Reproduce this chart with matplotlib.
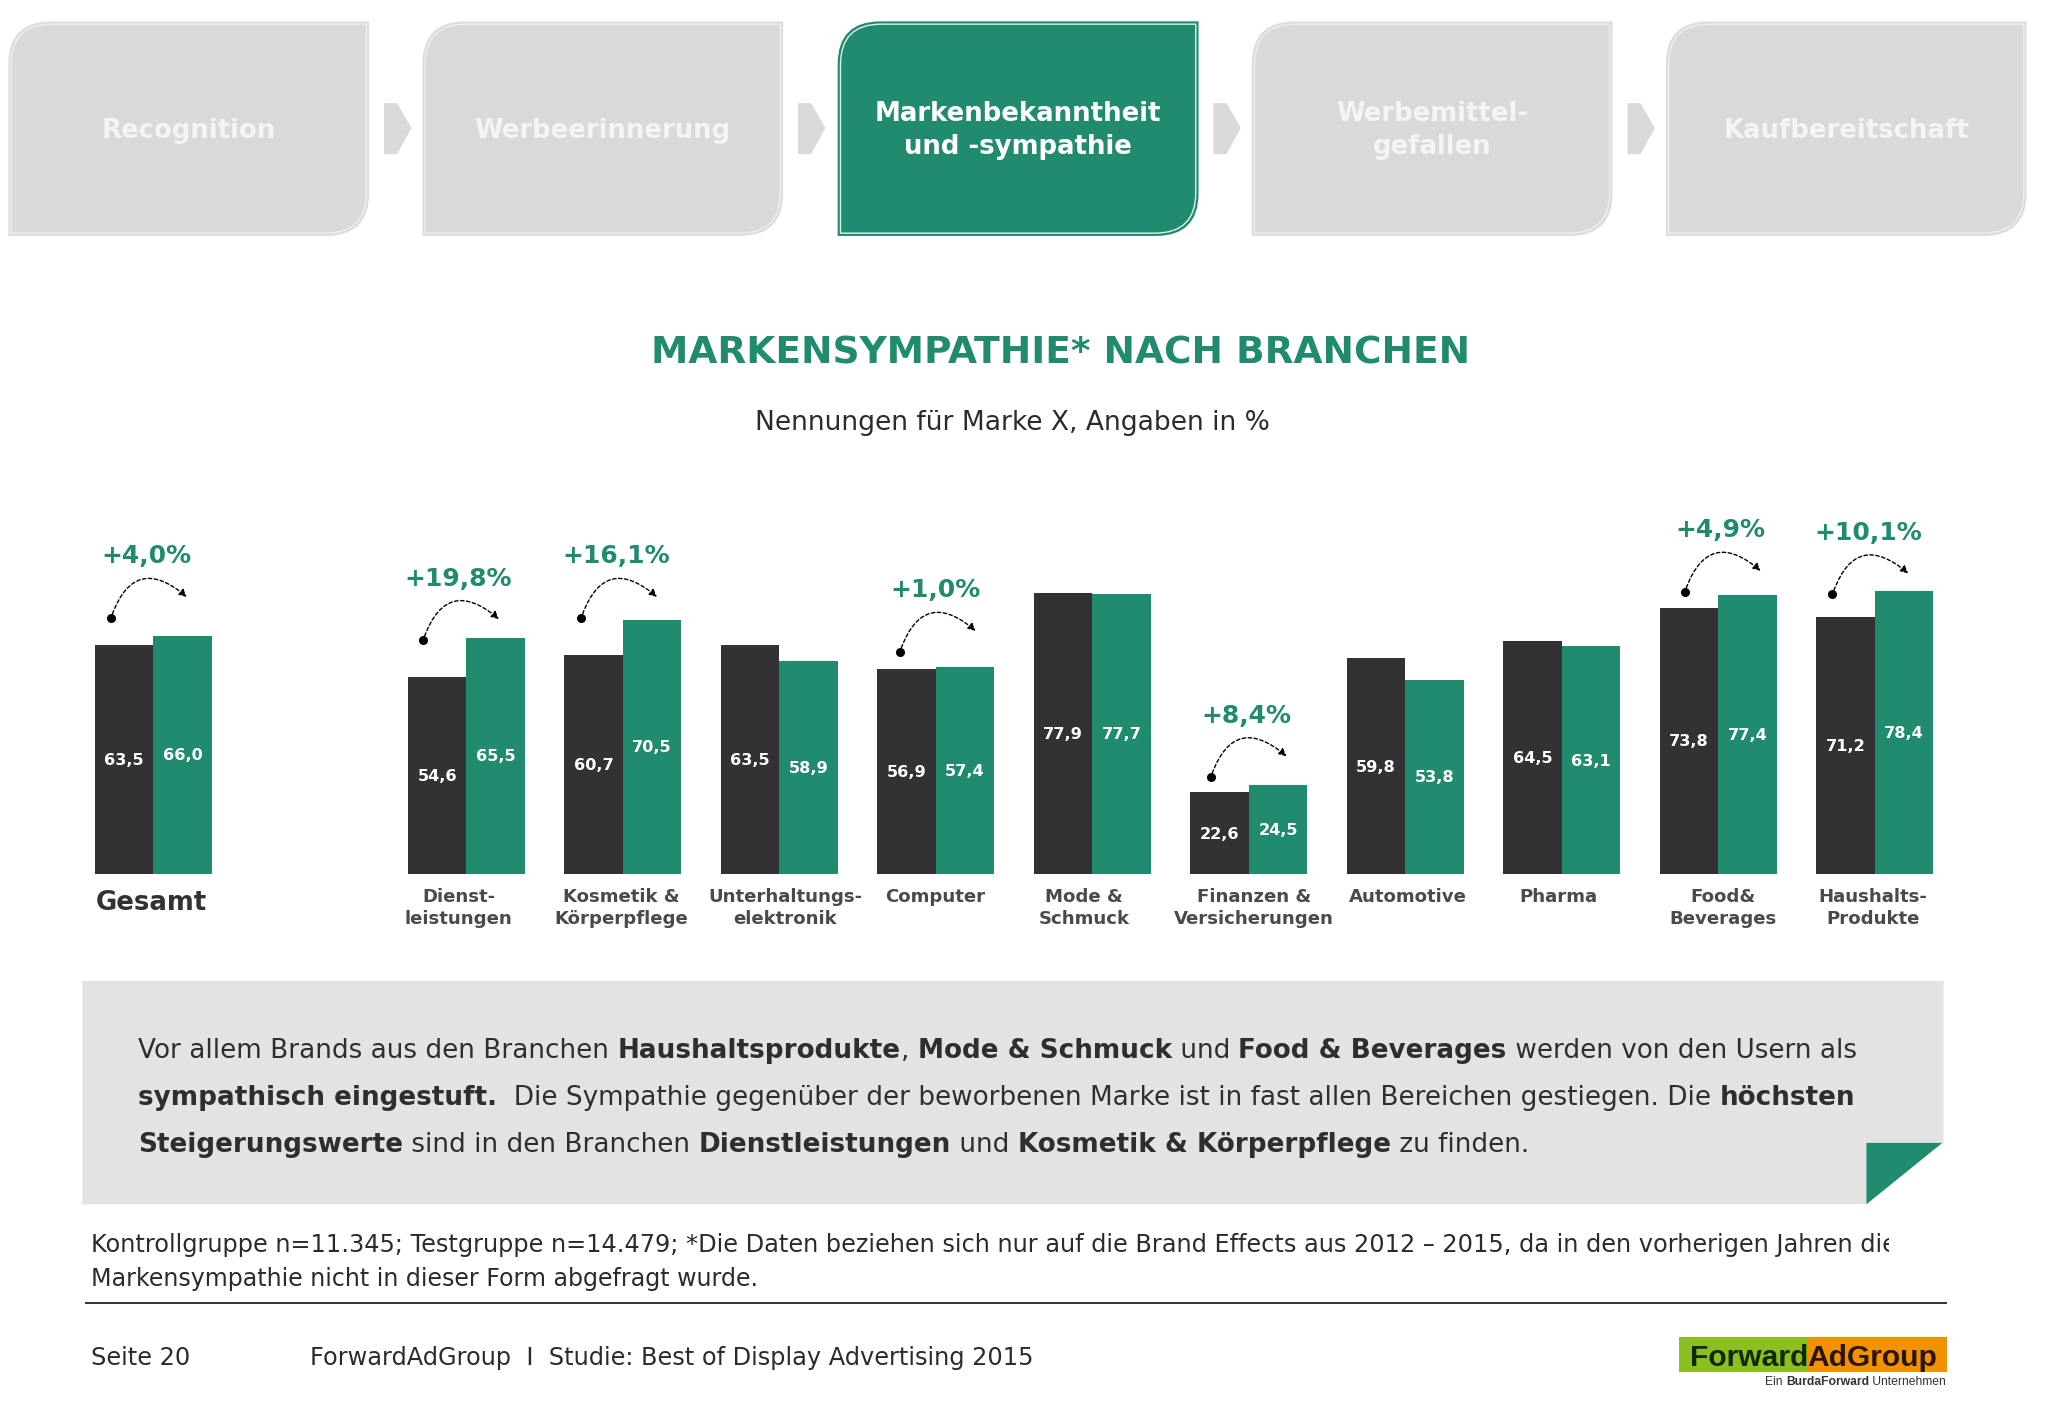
import matplotlib
matplotlib.use('Agg')
import matplotlib.pyplot as plt
import matplotlib.patches as mpatches
from matplotlib.path import Path

GREEN = '#218B6F'
DARK = '#333134'
GREY = '#D9D9DA'

# data
categories = ['Gesamt', 'Dienst-\nleistungen', 'Kosmetik &\nKörperpflege', 'Unterhaltungs-\nelektronik',
              'Computer', 'Mode &\nSchmuck', 'Finanzen &\nVersicherungen', 'Automotive', 'Pharma',
              'Food&\nBeverages', 'Haushalts-\nProdukte']
kontrollgruppe = [63.5, 54.6, 60.7, 63.5, 56.9, 77.9, 22.6, 59.8, 64.5, 73.8, 71.2]
testgruppe = [66.0, 65.5, 70.5, 58.9, 57.4, 77.7, 24.5, 53.8, 63.1, 77.4, 78.4]
steigerung = ['+4,0%', '+19,8%', '+16,1%', None, '+1,0%', None, '+8,4%', None, None, '+4,9%', '+10,1%']
steps = ['Recognition', 'Werbeerinnerung', 'Markenbekanntheit\nund -sympathie', 'Werbemittel-\ngefallen',
         'Kaufbereitschaft']

# layout, in the 1568 wide frame used for everything that is not a bar
group_pos = [0, 2, 3, 4, 5, 6, 7, 8, 9, 10, 11]
label_x = [116, 351, 476, 601, 716, 830, 960, 1078, 1193, 1319, 1434]
arc_x = [85, 324, 445, None, 689, None, 927, None, None, 1290, 1403]
arc_y = [473, 490, 473, None, 499, None, 595, None, None, 453, 455]
step_x = [7, 324, 642, 959, 1276]

W = 1568
H = 1418 * W / 2048
BASE = 669
PER_UNIT = 2.76
GROUP = 119.8
CENTER0 = 117.5
BAR_W = 0.3735

fig = plt.figure(figsize=(20.48, 14.18), dpi=100)
renderer = fig.canvas.get_renderer()

# bars
left = CENTER0 - 0.5 * GROUP
right = CENTER0 + 11.5 * GROUP
ax = fig.add_axes([left / W, (H - BASE) / H, (right - left) / W, 100 * PER_UNIT / H])
ax.set_xlim(-0.5, 11.5)
ax.set_ylim(0, 100)
ax.axis('off')
for i, pos in enumerate(group_pos):
    ax.bar(pos - BAR_W / 2, kontrollgruppe[i], BAR_W, color=DARK)
    ax.bar(pos + BAR_W / 2, testgruppe[i], BAR_W, color=GREEN)
    ax.text(pos - BAR_W / 2, kontrollgruppe[i] / 2 - 0.3, ('%.1f' % kontrollgruppe[i]).replace('.', ','),
            color='white', fontsize=11.6, fontweight='bold', ha='center', va='center')
    ax.text(pos + BAR_W / 2, testgruppe[i] / 2 - 0.3, ('%.1f' % testgruppe[i]).replace('.', ','),
            color='white', fontsize=11.6, fontweight='bold', ha='center', va='center')

# everything else
deco = fig.add_axes([0, 0, 1, 1], facecolor='none')
deco.set_xlim(0, W)
deco.set_ylim(H, 0)
deco.axis('off')


def box_path(x0, y0, x1, y1, r):
    verts = [(x0 + r, y0), (x1, y0), (x1, y1 - r), (x1, y1), (x1 - r, y1), (x0, y1), (x0, y0 + r),
             (x0, y0), (x0 + r, y0)]
    codes = [Path.MOVETO, Path.LINETO, Path.LINETO, Path.CURVE3, Path.CURVE3, Path.LINETO, Path.LINETO,
             Path.CURVE3, Path.CURVE3]
    return Path(verts, codes)


def draw_runs(runs, x, y, size, color, family='DejaVu Sans'):
    # spaces at the ends are not measured, so nbsp keeps them
    for chunk, bold in runs:
        t = deco.text(x, y, chunk.replace(' ', '\u00a0'), color=color, fontsize=size, family=family,
                      fontweight='bold' if bold else 'normal', ha='left', va='baseline')
        x += t.get_window_extent(renderer).width * W / 2048
    return x


for i, name in enumerate(steps):
    active = i == 2
    x = step_x[i]
    fill = GREEN if active else GREY
    ring = '#DDF0EA' if active else '#EFEFEF'
    edge = GREEN if active else '#DEDEDE'
    deco.add_patch(mpatches.PathPatch(box_path(x, 17, x + 275, 180, 32), facecolor=fill, edgecolor=edge, lw=1.2))
    deco.add_patch(mpatches.PathPatch(box_path(x + 1.5, 18.5, x + 273.5, 178.5, 31), facecolor='none',
                                      edgecolor=ring, lw=1))
    deco.text(x + 137.5, 100, name, color='white' if active else '#F4F4F4', fontsize=18.7,
              fontweight='bold', ha='center', va='center', linespacing=1.36)
    if i < 4:
        cx = x + 287
        deco.add_patch(mpatches.Polygon([(cx, 79), (cx + 10, 79), (cx + 21, 98), (cx + 10, 118), (cx, 118)],
                                        closed=True, color=GREY, lw=0))

deco.text(812, 270.5, 'MARKENSYMPATHIE* NACH BRANCHEN', color=GREEN, fontsize=27, fontweight='bold',
          ha='center', va='center')
deco.text(775, 324, 'Nennungen für Marke X, Angaben in %', color='#2B2B2B', fontsize=19.1, ha='center', va='center')

# increase labels and dashed arrows
for i, pos in enumerate(group_pos):
    if steigerung[i] is None:
        continue
    x0 = arc_x[i]
    y0 = arc_y[i]
    deco.plot([x0], [y0], 'o', color='black', ms=5.5)
    deco.add_patch(mpatches.FancyArrowPatch((x0, y0), (x0 + 58, y0 - 16), connectionstyle='arc3,rad=-0.73',
                                            arrowstyle='-|>', mutation_scale=11, lw=1, ls=(0, (2.5, 1.8)),
                                            color='black', shrinkA=3, shrinkB=0))
    deco.text(x0 + 27, y0 - 47, steigerung[i], color=GREEN, fontsize=18, fontweight='bold',
              ha='center', va='center')

# category names
deco.text(label_x[0], 691, categories[0], color=DARK, fontsize=18.7, fontweight='bold', ha='center', va='center')
for i in range(1, len(categories)):
    deco.text(label_x[i], 679.5, categories[i], color='#4A4A4C', fontsize=13.1, fontweight='bold', ha='center',
              va='top', linespacing=1.3)

# text panel with the folded corner
deco.add_patch(mpatches.Polygon([(63, 751), (1488, 751), (1488, 875), (1429, 922), (63, 922)], closed=True,
                                color='#E3E3E4', lw=0))
deco.add_patch(mpatches.Polygon([(1429, 875), (1487, 875), (1429, 922)], closed=True, color=GREEN, lw=0))

panel_lines = [
    [('Vor allem Brands aus den Branchen ', 0), ('Haushaltsprodukte', 1), (', ', 0), ('Mode & Schmuck', 1),
     (' und ', 0), ('Food & Beverages', 1), (' werden von den Usern als', 0)],
    [('sympathisch eingestuft.', 1), ('  Die Sympathie gegenüber der beworbenen Marke ist in fast allen Bereichen gestiegen. Die ', 0),
     ('höchsten', 1)],
    [('Steigerungswerte', 1), (' sind in den Branchen ', 0), ('Dienstleistungen', 1), (' und ', 0),
     ('Kosmetik & Körperpflege', 1), (' zu finden.', 0)],
]
panel_y = [810, 846, 882]
for runs, y in zip(panel_lines, panel_y):
    draw_runs(runs, 106, y, 18.9, '#2E2E2E')

foot_color = '#2B2B2B'
deco.text(70, 953, 'Kontrollgruppe n=11.345; Testgruppe n=14.479; *Die Daten beziehen sich nur auf die Brand Effects '
          'aus 2012 – 2015, da in den vorherigen Jahren die', color=foot_color, fontsize=17.3, ha='left', va='center')
# the source cuts this line off inside the last word
deco.add_patch(mpatches.Rectangle((1446, 935), 60, 35, color='white', lw=0, zorder=5))
deco.text(70, 979.5, 'Markensympathie nicht in dieser Form abgefragt wurde.', color=foot_color, fontsize=17.1,
          ha='left', va='center')
deco.plot([66, 1490], [997.5, 997.5], color='#333333', lw=1.4)
deco.text(70, 1040, 'Seite 20', color=foot_color, fontsize=17.3, ha='left', va='center')
deco.text(237, 1040, 'ForwardAdGroup  I  Studie: Best of Display Advertising 2015', color=foot_color, fontsize=17.3,
          ha='left', va='center')

# logo
deco.add_patch(mpatches.Rectangle((1285.5, 1023.5), 98.5, 27, color='#8CBF1F', lw=0))
deco.add_patch(mpatches.Rectangle((1384, 1023.5), 107, 27, color='#F39200', lw=0))
draw_runs([('Forward', 1)], 1294, 1045.5, 21.6, '#0F2A06', 'Liberation Sans')
draw_runs([('AdGroup', 1)], 1384, 1045.5, 21.6, '#2A1500', 'Liberation Sans')
draw_runs([('Ein ', 0), ('BurdaForward', 1), (' Unternehmen', 0)], 1351.5, 1060.5, 8.75, '#333333', 'Liberation Sans')

fig.savefig('out.png', dpi=100, facecolor='white')
